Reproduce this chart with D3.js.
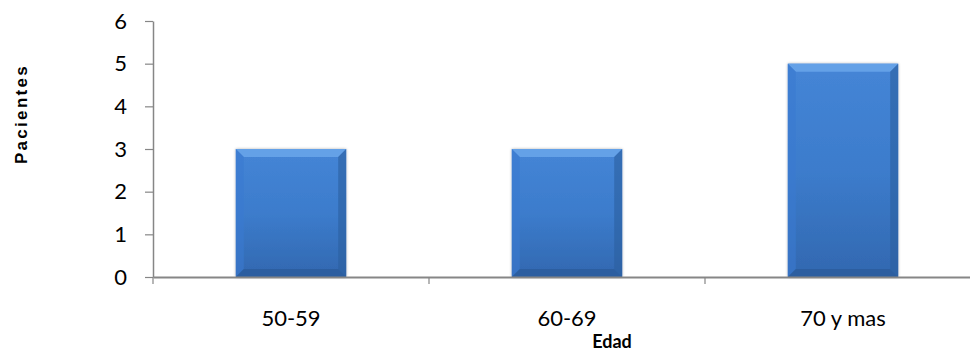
<!DOCTYPE html>
<html lang="es">
<head>
<meta charset="UTF-8">
<title>Pacientes por edad</title>
<style>
  body { margin: 0; background: #fff; }
  svg { display: block; }
  .tick text { font-family: Lato, "Open Sans", sans-serif; font-size: 22px; fill: #000; }
</style>
</head>
<body>
<svg id="chart" width="970" height="358"></svg>
<script src="https://d3js.org/d3.v7.min.js"></script>
<script>
const categories = ["50-59", "60-69", "70 y mas"];
const pacientes = [3, 3, 5];
const yTicks = [0, 1, 2, 3, 4, 5, 6];

const svg = d3.select("#chart");
const margin = { left: 153, top: 21, right: -11, bottom: 81 };
const width = 970, height = 358;

const x = d3.scaleBand()
  .domain(categories)
  .range([margin.left, width - margin.right])
  .paddingInner(0.6)
  .paddingOuter(0.3);

const y = d3.scaleLinear()
  .domain([0, 6])
  .range([height - margin.bottom, margin.top]);

const defs = svg.append("defs");
const grad = defs.append("linearGradient")
  .attr("id", "barGrad")
  .attr("x1", 0).attr("y1", 0).attr("x2", 0).attr("y2", 1);
grad.append("stop").attr("offset", "0%").attr("stop-color", "#4585d6");
grad.append("stop").attr("offset", "50%").attr("stop-color", "#3c7ccc");
grad.append("stop").attr("offset", "100%").attr("stop-color", "#3268b0");

const shadow = defs.append("filter").attr("id", "shadow")
  .attr("x", "-10%").attr("y", "-10%").attr("width", "120%").attr("height", "120%");
shadow.append("feGaussianBlur").attr("in", "SourceAlpha").attr("stdDeviation", 1.5);
shadow.append("feComponentTransfer").append("feFuncA").attr("type", "linear").attr("slope", 0.3);
const merge = shadow.append("feMerge");
merge.append("feMergeNode");
merge.append("feMergeNode").attr("in", "SourceGraphic");

// bars
const bars = svg.append("g")
  .selectAll("g")
  .data(categories.map((c, i) => ({ cat: c, val: pacientes[i] })))
  .join("g");

bars.append("rect")
  .attr("x", d => x(d.cat))
  .attr("y", d => y(d.val))
  .attr("width", x.bandwidth())
  .attr("height", d => y(0) - y(d.val))
  .attr("fill", "url(#barGrad)")
  .attr("filter", "url(#shadow)");

// bevel: light top, darker sides and bottom
const bev = 8;
bars.append("path")
  .attr("d", d => {
    const x0 = x(d.cat), x1 = x0 + x.bandwidth(), y0 = y(d.val);
    return `M${x0},${y0}L${x1},${y0}L${x1 - bev},${y0 + bev}L${x0 + bev},${y0 + bev}Z`;
  })
  .attr("fill", "#6aa6ea").attr("opacity", 0.85);
bars.append("path")
  .attr("d", d => {
    const x0 = x(d.cat), x1 = x0 + x.bandwidth(), y0 = y(d.val), y1 = y(0);
    return `M${x1},${y0}L${x1},${y1}L${x1 - bev},${y1 - bev}L${x1 - bev},${y0 + bev}Z`;
  })
  .attr("fill", "#2c5f9f").attr("opacity", 0.6);
bars.append("path")
  .attr("d", d => {
    const x0 = x(d.cat), y0 = y(d.val), y1 = y(0);
    return `M${x0},${y0}L${x0 + bev},${y0 + bev}L${x0 + bev},${y1 - bev}L${x0},${y1}Z`;
  })
  .attr("fill", "#3a7ad0").attr("opacity", 0.6);
bars.append("path")
  .attr("d", d => {
    const x0 = x(d.cat), x1 = x0 + x.bandwidth(), y1 = y(0);
    return `M${x0},${y1}L${x0 + bev},${y1 - bev}L${x1 - bev},${y1 - bev}L${x1},${y1}Z`;
  })
  .attr("fill", "#2a5a98").attr("opacity", 0.7);

// y axis
const yAxis = svg.append("g")
  .attr("transform", `translate(${margin.left},0)`)
  .call(d3.axisLeft(y).tickValues(yTicks).tickFormat(d3.format("d"))
    .tickSize(8).tickPadding(18).tickSizeOuter(0));
yAxis.select(".domain").attr("stroke", "#868686").attr("stroke-width", 1.5);
yAxis.selectAll(".tick line").attr("stroke", "#868686").attr("stroke-width", 1.2);

// x axis, tick marks at category boundaries
const xAxis = svg.append("g")
  .attr("transform", `translate(0,${y(0)})`)
  .call(d3.axisBottom(x).tickSize(0).tickPadding(33));
xAxis.select(".domain").attr("stroke", "#868686").attr("stroke-width", 2);
const step = x.step();
const bounds = [margin.left].concat(categories.slice(0, -1).map(c => x(c) + x.bandwidth() + (step - x.bandwidth()) / 2));
xAxis.selectAll(".sep")
  .data(bounds)
  .join("line")
  .attr("class", "sep")
  .attr("x1", d => d).attr("x2", d => d)
  .attr("y1", 0).attr("y2", 7)
  .attr("stroke", "#868686").attr("stroke-width", 1.2);

// axis titles
svg.append("text")
  .attr("transform", "translate(27,114) rotate(-90)")
  .attr("text-anchor", "middle")
  .attr("font-family", "Liberation Sans, Arial, sans-serif")
  .attr("font-weight", "bold")
  .attr("font-size", 17)
  .attr("letter-spacing", 2.3)
  .text("Pacientes");

svg.append("text")
  .attr("x", 612)
  .attr("y", 348)
  .attr("text-anchor", "middle")
  .attr("font-family", "Lato, sans-serif")
  .attr("font-weight", "bold")
  .attr("font-size", 18)
  .text("Edad");
</script>
</body>
</html>
